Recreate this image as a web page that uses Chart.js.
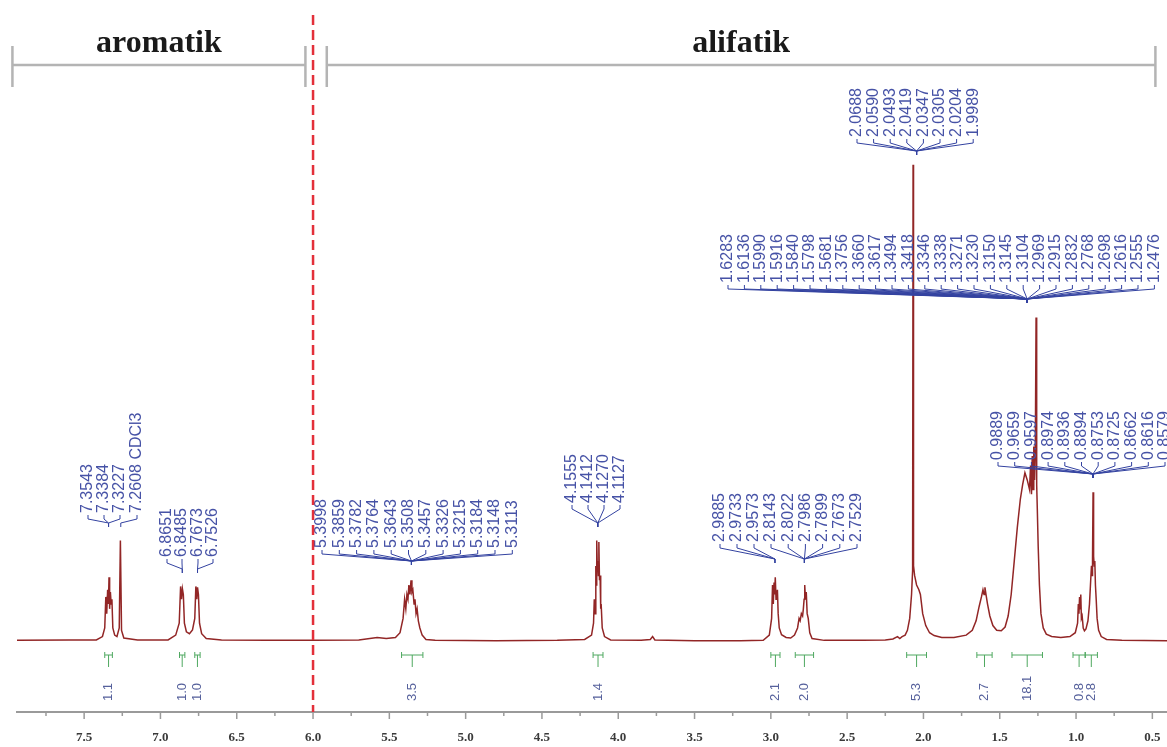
<!DOCTYPE html>
<html>
<head>
<meta charset="utf-8">
<script src="https://cdn.jsdelivr.net/npm/chart.js@4.4.1/dist/chart.umd.min.js"></script>
<style>
  html, body { margin: 0; padding: 0; background: #fff; }
  #wrap { width: 1167px; height: 747px; position: relative; }
</style>
</head>
<body>
<div id="wrap"><canvas id="nmr"></canvas></div>
<script>
// 1H NMR trace: chemical shift (ppm) and relative intensity (tallest line = 100)
const shiftPpm = [
  7.94, 7.60, 7.42, 7.38, 7.365, 7.358, 7.352, 7.346, 7.341, 7.337, 7.333, 7.328, 7.323, 7.318, 7.312, 7.30,
  7.285, 7.27, 7.2625, 7.255, 7.24, 7.15, 6.95, 6.90, 6.877, 6.868, 6.862, 6.856, 6.850, 6.843, 6.83, 6.81,
  6.79, 6.775, 6.768, 6.762, 6.757, 6.751, 6.744, 6.73, 6.70, 6.60, 6.30, 6.00, 5.70, 5.58, 5.52, 5.46,
  5.43, 5.41, 5.40, 5.392, 5.385, 5.378, 5.372, 5.365, 5.358, 5.352, 5.346, 5.338, 5.332, 5.325, 5.318, 5.31,
  5.30, 5.285, 5.26, 5.20, 4.80, 4.40, 4.22, 4.175, 4.162, 4.157, 4.152, 4.147, 4.144, 4.141, 4.137, 4.134,
  4.130, 4.127, 4.123, 4.119, 4.115, 4.112, 4.105, 4.09, 4.05, 3.85, 3.79, 3.775, 3.76, 3.50, 3.20, 3.05,
  3.01, 2.995, 2.989, 2.984, 2.979, 2.975, 2.971, 2.966, 2.962, 2.957, 2.952, 2.945, 2.93, 2.90, 2.87, 2.845,
  2.825, 2.815, 2.808, 2.800, 2.792, 2.787, 2.782, 2.778, 2.773, 2.768, 2.762, 2.755, 2.745, 2.73, 2.65, 2.40,
  2.25, 2.20, 2.17, 2.155, 2.14, 2.12, 2.105, 2.09, 2.078, 2.071, 2.068, 2.065, 2.058, 2.045, 2.03, 2.02,
  2.005, 1.985, 1.96, 1.93, 1.88, 1.80, 1.72, 1.68, 1.655, 1.635, 1.62, 1.61, 1.603, 1.597, 1.59, 1.58,
  1.565, 1.545, 1.52, 1.49, 1.465, 1.445, 1.425, 1.405, 1.385, 1.365, 1.35, 1.335, 1.32, 1.305, 1.298, 1.292,
  1.287, 1.282, 1.277, 1.272, 1.267, 1.262, 1.258, 1.254, 1.248, 1.24, 1.23, 1.215, 1.195, 1.16, 1.10, 1.04,
  1.005, 0.99, 0.985, 0.981, 0.977, 0.973, 0.969, 0.965, 0.96, 0.953, 0.945, 0.935, 0.922, 0.912, 0.904, 0.899,
  0.895, 0.892, 0.8885, 0.885, 0.881, 0.877, 0.873, 0.868, 0.862, 0.852, 0.835, 0.80, 0.70, 0.404
];
const intensity = [
  0.4, 0.5, 0.5, 1.2, 3, 9.5, 6, 11, 8, 13.6, 7, 10.5, 8, 9, 3, 1.5,
  1.2, 3, 21.3, 2.5, 0.9, 0.5, 0.5, 1.5, 4, 11.7, 9, 11.2, 10, 4, 2.2, 1.8,
  2.6, 5, 11.7, 9, 11.5, 10, 4, 1.8, 0.8, 0.5, 0.4, 0.4, 0.5, 1.0, 0.8, 1.0,
  2, 5, 9, 7, 10, 9, 12, 10, 13, 10.5, 11, 8, 9, 6, 7, 4.5,
  3, 1.5, 0.6, 0.4, 0.3, 0.4, 0.6, 1.5, 4, 9, 6, 16, 12, 21.3, 15, 17,
  14, 21, 13, 14, 7, 8, 3, 1.2, 0.5, 0.4, 0.6, 1.2, 0.5, 0.3, 0.3, 0.4,
  1.5, 5, 12, 8, 12.5, 10, 13.6, 9, 10, 11, 6, 3, 1.6, 1.0, 0.9, 1.5,
  3, 5, 4.5, 6, 5.5, 7, 9, 12, 9, 10.5, 6, 5, 2, 0.8, 0.4, 0.4,
  0.5, 0.7, 1.2, 0.8, 1.2, 1.5, 2.5, 5, 10, 15, 100, 16, 14, 12, 11, 10,
  6, 3.5, 2, 1.4, 1.0, 1.0, 1.5, 2.5, 4.5, 7.5, 9.5, 11, 10, 11.5, 10, 8,
  5.5, 3.5, 2.5, 2.4, 3.2, 5.5, 10, 17, 24, 30, 33, 35.5, 34, 32, 37, 31,
  39, 32, 41, 34, 40, 68, 33, 28, 20, 12, 6, 3, 1.7, 1.2, 1.0, 1.2,
  2, 4, 8, 6, 9.5, 7, 10, 5, 5.5, 3, 2.4, 2.8, 4.5, 8, 13, 16,
  14, 17.5, 31.4, 18, 16, 17, 12, 9, 5, 2.5, 1.2, 0.6, 0.4, 0.3
];

// x axis labels (ppm)
const xTicks = [7.5, 7.0, 6.5, 6.0, 5.5, 5.0, 4.5, 4.0, 3.5, 3.0, 2.5, 2.0, 1.5, 1.0, 0.5];

// picked peaks: label text per group and the shift each bracket points at
const peakLabels = [
  ['7.3543', '7.3384', '7.3227'],
  ['7.2608 CDCl3'],
  ['6.8651', '6.8485'],
  ['6.7673', '6.7526'],
  ['5.3998', '5.3859', '5.3782', '5.3764', '5.3643', '5.3508', '5.3457', '5.3326', '5.3215', '5.3184', '5.3148', '5.3113'],
  ['4.1555', '4.1412', '4.1270', '4.1127'],
  ['2.9885', '2.9733', '2.9573'],
  ['2.8143', '2.8022', '2.7986', '2.7899', '2.7673', '2.7529'],
  ['2.0688', '2.0590', '2.0493', '2.0419', '2.0347', '2.0305', '2.0204', '1.9989'],
  ['1.6283', '1.6136', '1.5990', '1.5916', '1.5840', '1.5798', '1.5681', '1.3756', '1.3660', '1.3617',
   '1.3494', '1.3418', '1.3346', '1.3338', '1.3271', '1.3230', '1.3150', '1.3145', '1.3104', '1.2969',
   '1.2915', '1.2832', '1.2768', '1.2698', '1.2616', '1.2555', '1.2476'],
  ['0.9889', '0.9659', '0.9597', '0.8974', '0.8936', '0.8894', '0.8753', '0.8725', '0.8662', '0.8616', '0.8579']
];
const peakAnchors = [7.34, 7.26, 6.857, 6.757, 5.355, 4.134, 2.973, 2.78, 2.045, 1.32, 0.889];

// integrals
const integralFrom = [7.365, 6.875, 6.775, 5.42, 4.165, 3.00, 2.84, 2.11, 1.65, 1.42, 1.02, 0.94];
const integralTo = [7.315, 6.840, 6.740, 5.28, 4.10, 2.94, 2.72, 1.98, 1.55, 1.22, 0.94, 0.86];
const integralValues = ['1.1', '1.0', '1.0', '3.5', '1.4', '2.1', '2.0', '5.3', '2.7', '18.1', '0.8', '2.8'];

// region brackets at the top
const regionNames = ['aromatik', 'alifatik'];
const regionFrom = [7.97, 5.91];
const regionTo = [6.05, 0.48];
const splitPpm = 6.0;

document.addEventListener("DOMContentLoaded", function () {
  const ctx = document.getElementById("nmr").getContext("2d");

  // where the label columns sit (pixels), one entry per peak group
  const labelBoxes = [
    { x0: 88, dx: 16, bottom: 513, tip: 527 },
    { x0: 137, dx: 0, bottom: 513, tip: 527 },
    { x0: 167, dx: 15, bottom: 557, tip: 573 },
    { x0: 198, dx: 15, bottom: 557, tip: 573 },
    { x0: 322, dx: 17.3, bottom: 548, tip: 565 },
    { x0: 572, dx: 16, bottom: 503, tip: 527 },
    { x0: 720, dx: 17, bottom: 542, tip: 563 },
    { x0: 771, dx: 17.2, bottom: 542, tip: 563 },
    { x0: 857, dx: 16.6, bottom: 137, tip: 155 },
    { x0: 728, dx: 16.4, bottom: 283, tip: 303 },
    { x0: 998, dx: 16.7, bottom: 460, tip: 478 }
  ];

  const overlay = {
    id: "overlay",
    afterDraw(chart) {
      const c = chart.ctx;
      const xs = chart.scales.x;
      const area = chart.chartArea;
      const axisY = area.bottom;

      // axis tick marks, every 0.25 ppm
      c.save();
      c.strokeStyle = "#9a9a9a";
      c.lineWidth = 1.5;
      for (let v = 0.5; v <= 7.76; v += 0.25) {
        const px = xs.getPixelForValue(v);
        const major = Math.abs(v * 2 - Math.round(v * 2)) < 1e-6;
        c.beginPath();
        c.moveTo(px, axisY);
        c.lineTo(px, axisY + (major ? 7 : 4));
        c.stroke();
      }
      c.restore();

      // integrals
      c.save();
      integralValues.forEach((val, i) => {
        const a = xs.getPixelForValue(integralFrom[i]);
        const b = xs.getPixelForValue(integralTo[i]);
        const m = (a + b) / 2;
        c.strokeStyle = "#4fa860";
        c.lineWidth = 1;
        c.beginPath();
        c.moveTo(a, 652); c.lineTo(a, 658);
        c.moveTo(b, 652); c.lineTo(b, 658);
        c.moveTo(a, 655); c.lineTo(b, 655);
        c.moveTo(m, 655); c.lineTo(m, 667);
        c.stroke();
        c.translate(m, 701);
        c.rotate(-Math.PI / 2);
        c.fillStyle = "#56619c";
        c.font = '13px "Liberation Sans"';
        c.textAlign = "left";
        c.textBaseline = "middle";
        c.fillText(val, 0, 0);
        c.setTransform(1, 0, 0, 1, 0, 0);
      });
      c.restore();

      // peak labels with their fan brackets
      c.save();
      peakLabels.forEach((labels, g) => {
        const box = labelBoxes[g];
        const tipX = xs.getPixelForValue(peakAnchors[g]);
        c.strokeStyle = "#3342a0";
        c.lineWidth = 1;
        labels.forEach((txt, i) => {
          const px = box.x0 + i * box.dx;
          c.beginPath();
          c.moveTo(px, box.bottom + 2);
          c.lineTo(px, box.bottom + 6);
          c.lineTo(tipX, box.tip - 4);
          c.lineTo(tipX, box.tip);
          c.stroke();
          c.save();
          c.translate(px, box.bottom);
          c.rotate(-Math.PI / 2);
          c.fillStyle = "#4652a6";
          c.font = '16px "Liberation Sans"';
          c.textAlign = "left";
          c.textBaseline = "middle";
          c.fillText(txt, 0, 0);
          c.restore();
        });
      });
      c.restore();

      // region brackets
      c.save();
      regionNames.forEach((name, i) => {
        const a = xs.getPixelForValue(regionFrom[i]);
        const b = xs.getPixelForValue(regionTo[i]);
        c.strokeStyle = "#b4b4b4";
        c.lineWidth = 2.5;
        c.beginPath();
        c.moveTo(a, 65); c.lineTo(b, 65);
        c.moveTo(a, 46); c.lineTo(a, 87);
        c.moveTo(b, 46); c.lineTo(b, 87);
        c.stroke();
        c.fillStyle = "#1a1a1a";
        c.font = 'bold 32px "Liberation Serif"';
        c.textAlign = "center";
        c.textBaseline = "alphabetic";
        c.fillText(name, (a + b) / 2, 52);
      });
      c.restore();

      // red dashed divider
      c.save();
      const sx = xs.getPixelForValue(splitPpm);
      c.strokeStyle = "#e3303a";
      c.lineWidth = 2.5;
      c.setLineDash([10, 5]);
      c.beginPath();
      c.moveTo(sx, 15);
      c.lineTo(sx, axisY);
      c.stroke();
      c.restore();
    }
  };

  new Chart(ctx, {
    type: "line",
    data: {
      datasets: [
        {
          label: "1H NMR",
          data: shiftPpm.map((p, i) => ({ x: p, y: intensity[i] })),
          borderColor: "#922626",
          borderWidth: 1.5,
          pointRadius: 0,
          tension: 0,
          fill: false,
        },
      ],
    },
    options: {
      responsive: true,
      maintainAspectRatio: false,
      animation: false,
      layout: { padding: { left: 17, right: 0, top: 0, bottom: 1 } },
      scales: {
        x: {
          type: "linear",
          reverse: true,
          min: 0.404,
          max: 7.94,
          afterBuildTicks: (axis) => {
            axis.ticks = xTicks.map((v) => ({ value: v }));
          },
          afterFit: (axis) => {
            axis.height = 34;
            axis.paddingLeft = 0;
            axis.paddingRight = 0;
          },
          ticks: {
            autoSkip: false,
            maxRotation: 0,
            padding: 18,
            color: "#3a3a3a",
            font: { family: "Liberation Serif", size: 13, weight: "bold" },
            callback: (v) => Number(v).toFixed(1),
          },
          grid: { display: false, drawTicks: false },
          border: { display: true, color: "#9a9a9a", width: 2 },
        },
        y: {
          display: false,
          min: -14.6,
          max: 134.5,
        },
      },
      plugins: {
        legend: { display: false },
        tooltip: { enabled: false },
      },
    },
    plugins: [overlay],
  });
});
</script>
</body>
</html>
